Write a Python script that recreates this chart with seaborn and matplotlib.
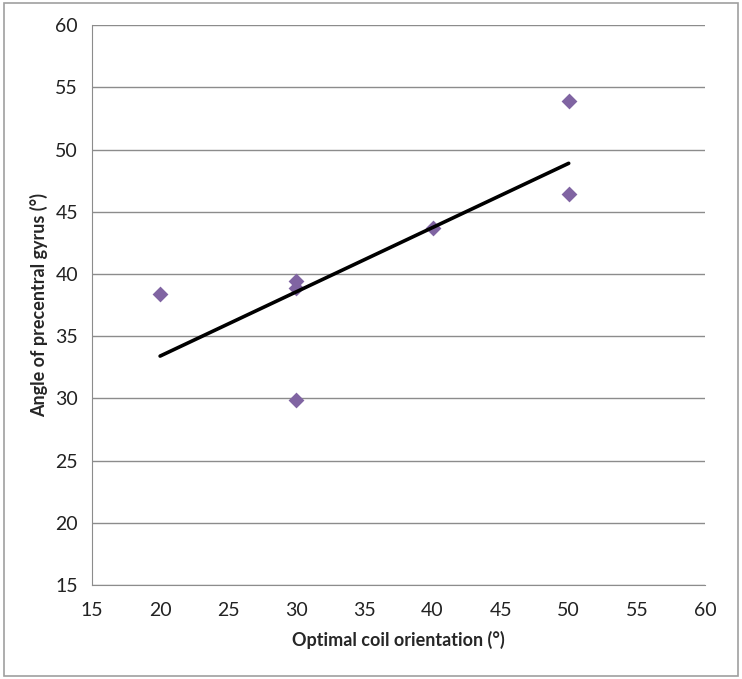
import matplotlib
matplotlib.use("Agg")
import matplotlib.pyplot as plt
import seaborn as sns
import pandas as pd
from matplotlib.patches import Rectangle

# values
coil_orientation = [20, 30, 30, 30, 40, 50, 50]
gyrus_angle = [38.4, 39.4, 38.9, 29.9, 43.7, 53.9, 46.4]
tick_values = [15, 20, 25, 30, 35, 40, 45, 50, 55, 60]

df = pd.DataFrame({'coil': coil_orientation, 'gyrus': gyrus_angle})

sns.set_style("white")
plt.rcParams['font.family'] = ['Lato', 'DejaVu Sans']

fig = plt.figure(figsize=(7.42, 6.79), dpi=100)
ax = fig.add_axes([0.124, 0.1385, 0.826, 0.8245])

sns.regplot(x='coil', y='gyrus', data=df, ax=ax, ci=None, marker='D',
            scatter_kws={'color': '#8064A2', 's': 65, 'alpha': 1, 'linewidths': 0},
            line_kws={'color': 'black', 'linewidth': 2.6})

ax.set_xlim(15, 60)
ax.set_ylim(15, 60)
ax.set_xticks(tick_values)
ax.set_yticks(tick_values)
ax.tick_params(labelsize=14, colors='#222222', length=0)
ax.tick_params(axis='x', pad=12)
ax.tick_params(axis='y', pad=10)

ax.yaxis.grid(True, color='#8c8c8c', linewidth=1)
ax.xaxis.grid(False)
ax.set_axisbelow(True)

for side in ['top', 'right']:
    ax.spines[side].set_visible(False)
ax.spines['left'].set_color('#8c8c8c')
ax.spines['bottom'].set_color('#8c8c8c')

ax.set_xlabel('Optimal coil orientation (°)', fontsize=13, fontweight='bold', labelpad=9)
ax.set_ylabel('Angle of precentral gyrus (°)', fontsize=13, fontweight='bold', labelpad=5)

# outer chart border
fig.patches.append(Rectangle((0.005, 0.005), 0.99, 0.99, transform=fig.transFigure,
                             fill=False, edgecolor='#a0a0a0', linewidth=1.2))

fig.savefig('out.png', dpi=100)
